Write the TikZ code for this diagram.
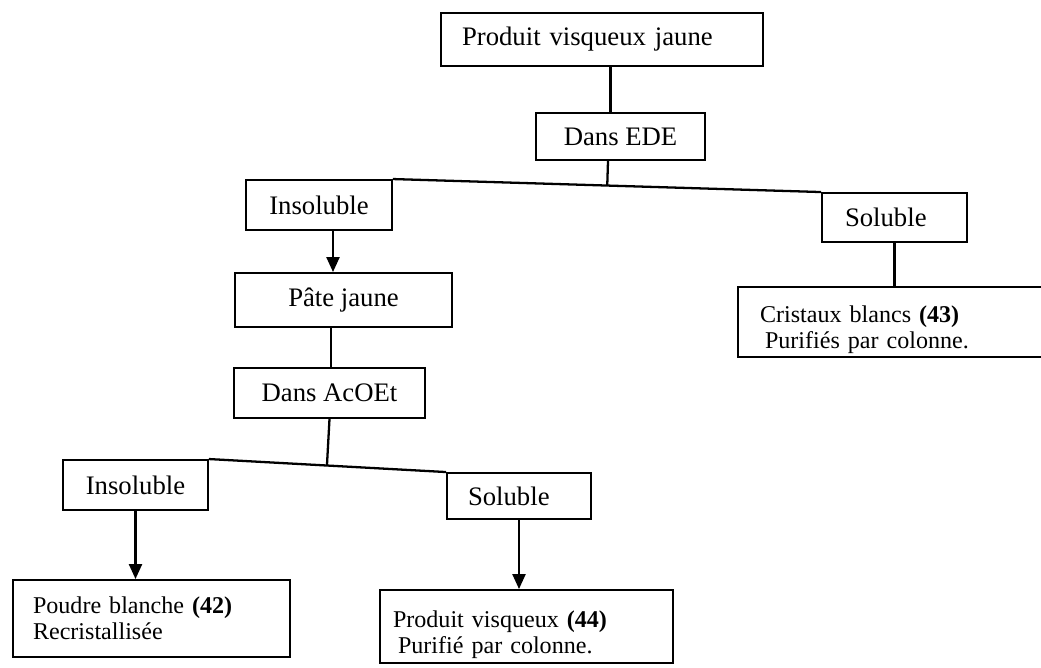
\documentclass[tikz,border=0pt]{standalone}
\usepackage{fontspec}
\setmainfont{Liberation Serif}
\usetikzlibrary{arrows.meta,calc}
\begin{document}
\begin{tikzpicture}[x=0.02cm,y=-0.02cm,
  box/.style={draw, line width=1.1pt, inner sep=0pt, font=\fontsize{15.2}{18}\selectfont},
  note/.style={draw, line width=1.1pt, inner ysep=0pt, align=left, font=\fontsize{13.7}{14.8}\selectfont},
  link/.style={line width=1.3pt},
  flow/.style={link, -{Triangle[length=0.3cm,width=0.26cm]}}]
\useasboundingbox (0,0) rectangle (1041,667);
\clip (0,0) rectangle (1041,667);

% boxes
\node[box, minimum width=6.44cm, minimum height=1.06cm, text width=5.6cm, inner xsep=0.42cm, align=left] (top) at (602,39.5) {Produit visqueux jaune};
\node[box, minimum width=3.38cm, minimum height=0.94cm] (ede) at (620.5,136.5) {Dans EDE};
\node[box, minimum width=2.92cm, minimum height=1.0cm] (ins1) at (319,205) {Insoluble};
\node[box, minimum width=2.9cm, minimum height=0.98cm, text width=1.98cm, inner xsep=0.46cm, align=left] (sol1) at (894.5,217.5) {Soluble};
\node[note, minimum width=6.24cm, minimum height=1.4cm, text width=5.36cm, inner xsep=0.44cm] (crist) at (894,322) {\rule{0pt}{0.66cm}Cristaux blancs \textbf{(43)}\\\hspace{0.1cm}Purifiés par colonne.};
\node[box, minimum width=4.34cm, minimum height=1.08cm] (pate) at (343.5,300) {Pâte jaune};
\node[box, minimum width=3.82cm, minimum height=1.0cm] (acoet) at (329.5,393) {Dans AcOEt};
\node[box, minimum width=2.9cm, minimum height=1.0cm] (ins2) at (135.5,485) {Insoluble};
\node[box, minimum width=2.88cm, minimum height=0.92cm, text width=2.04cm, inner xsep=0.42cm, align=left] (sol2) at (519,496) {Soluble};
\node[note, minimum width=5.54cm, minimum height=1.54cm, text width=4.74cm, inner xsep=0.4cm] (poudre) at (151.5,618.5) {Poudre blanche \textbf{(42)}\\Recristallisée};
\node[note, minimum width=5.86cm, minimum height=1.46cm, text width=5.34cm, inner xsep=0.26cm] (visq) at (526.5,626.5) {\rule{0pt}{0.66cm}Produit visqueux \textbf{(44)}\\\hspace{0.1cm}Purifié par colonne.};

% first split, in EDE
\coordinate (e1) at ([xshift=-0.2cm]ede.north);
\draw[link] (e1 |- top.south) -- (e1);
\coordinate (e2) at ([xshift=-0.25cm]ede.south);
\draw[link] (ins1.north east) -- (sol1.north west);
\draw[link] (e2) -- ($(ins1.north east)!(e2)!(sol1.north west)$);
\coordinate (i1) at ([xshift=0.28cm]ins1.south);
\draw[flow] (i1) -- (i1 |- pate.north);
\draw[link] (sol1.south) -- (sol1.south |- crist.north);

% second split, in AcOEt
\coordinate (p1) at ([xshift=-0.25cm]pate.south);
\draw[link] (p1) -- (p1 |- acoet.north);
\draw[link] (ins2.north east) -- (sol2.north west);
\draw[link] (acoet.south) -- ($(ins2.north east)!(acoet.south)!(sol2.north west)$);
\draw[flow] (ins2.south) -- (ins2.south |- poudre.north);
\draw[flow] (sol2.south) -- (sol2.south |- visq.north);
\end{tikzpicture}
\end{document}
